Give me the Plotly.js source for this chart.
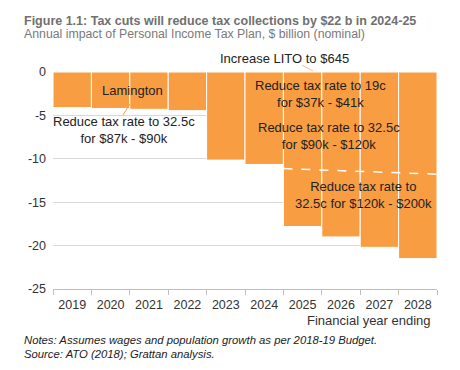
<!DOCTYPE html>
<html><head><meta charset="utf-8">
<script src="https://cdn.plot.ly/plotly-3.0.1.min.js"></script>
<style>html,body{margin:0;padding:0;background:#fff}</style></head>
<body>
<div id="chart" style="width:460px;height:370px"></div>
<script>
const years = ['2019','2020','2021','2022','2023','2024','2025','2026','2027','2028'];
const taxImpact = [-4.1, -4.2, -4.3, -4.45, -10.15, -10.65, -17.8, -19.0, -20.2, -21.5];
const stage3Years = ['2025','2026','2027','2028'];
const stage3Boundary = [-11.2, -11.35, -11.55, -11.7];
const yTickVals = [0, -5, -10, -15, -20, -25];

const L = 53, R = 437, T = 72, B = 289;
const PX = x => (x - L) / (R - L);
const PY = y => (B - y) / (B - T);

// dashed boundary line on hidden linear axis aligned to category indices
const idx = stage3Years.map(y => years.indexOf(y));
const n = idx.length;
const s0 = (stage3Boundary[1] - stage3Boundary[0]) / (idx[1] - idx[0]);
const s1 = (stage3Boundary[n-1] - stage3Boundary[n-2]) / (idx[n-1] - idx[n-2]);
const lineX = [idx[0] - 0.5].concat(idx, [idx[n-1] + 0.5]);
const lineY = [stage3Boundary[0] - 0.5 * s0].concat(stage3Boundary, [stage3Boundary[n-1] + 0.5 * s1]);

const orange = '#F89D42';
const txt = '#222222';
const FAM = 'Liberation Sans, Arial, sans-serif';
const afont = {family: FAM, size: 13, color: txt};

const data = [
  {type: 'bar', x: years, y: taxImpact, marker: {color: orange, line: {color: '#ffffff', width: 1}},
   hoverinfo: 'skip'},
  {type: 'scatter', mode: 'lines', x: lineX, y: lineY, xaxis: 'x2', yaxis: 'y',
   line: {color: '#ffffff', width: 1.5, dash: 'dash'}, hoverinfo: 'skip'}
];

function ann(text, x, y, extra) {
  return Object.assign({text: text, xref: 'paper', yref: 'paper', x: PX(x), y: PY(y),
    xanchor: 'center', yanchor: 'middle', showarrow: false, font: afont, align: 'center'}, extra || {});
}

const annotations = [
  ann('<b>Figure 1.1: Tax cuts will reduce tax collections by $22 b in 2024-25</b>', 22, 21,
      {xanchor: 'left', align: 'left', font: {family: FAM, size: 12.5, color: '#707070'}}),
  ann('Annual impact of Personal Income Tax Plan, $ billion (nominal)', 22, 34,
      {xanchor: 'left', align: 'left', font: {family: FAM, size: 12.3, color: '#7a7a7a'}}),
  ann('Increase LITO to $645', 284, 58),
  ann('Lamington', 132, 90.5),
  ann('Reduce tax rate to 32.5c<br>for $87k - $90k', 124, 129.5),
  ann('Reduce tax rate to 19c<br>for $37k - $41k', 320.5, 94),
  ann('Reduce tax rate to 32.5c<br>for $90k - $120k', 329, 135.5),
  ann('Reduce tax rate to<br>32.5c for $120k - $200k', 363, 194.5),
  ann('Financial year ending', 433, 320, {xanchor: 'right', font: {family: FAM, size: 13, color: '#333333'}}),
  ann('<i>Notes: Assumes wages and population growth as per 2018-19 Budget.</i>', 22, 339.5,
      {xanchor: 'left', align: 'left', font: {family: FAM, size: 11.3, color: '#222'}}),
  ann('<i>Source: ATO (2018); Grattan analysis.</i>', 22, 353.5,
      {xanchor: 'left', align: 'left', font: {family: FAM, size: 11.3, color: '#222'}})
];

const shapes = [
  {type: 'line', xref: 'paper', yref: 'paper', x0: PX(130), y0: PY(104), x1: PX(123), y1: PY(115),
   line: {color: orange, width: 1}},
  {type: 'line', xref: 'paper', yref: 'paper', x0: PX(302), y0: PY(65), x1: PX(313), y1: PY(71),
   line: {color: '#F9C08A', width: 1}}
];

const layout = {
  width: 460, height: 370,
  margin: {l: L, r: 460 - R, t: T, b: 370 - B, pad: 0},
  paper_bgcolor: '#ffffff', plot_bgcolor: '#ffffff',
  showlegend: false, bargap: 0,
  font: {family: FAM, size: 12, color: '#333'},
  xaxis: {type: 'category', tickson: 'boundaries', ticks: 'outside', ticklen: 5, tickcolor: '#bfbfbf',
          showline: true, linecolor: '#bfbfbf', linewidth: 1, showgrid: false, fixedrange: true,
          ticklabelstandoff: 4, tickfont: {size: 12.5, color: '#333'}},
  xaxis2: {overlaying: 'x', range: [-0.5, years.length - 0.5], visible: false, fixedrange: true},
  yaxis: {range: [-25, 0], tickvals: yTickVals, ticktext: yTickVals.map(String), showgrid: true,
          gridcolor: '#d9d9d9', gridwidth: 1, zeroline: false, ticks: '', showline: false,
          ticklabelstandoff: 6, tickfont: {size: 12.5, color: '#333'}, fixedrange: true},
  annotations: annotations,
  shapes: shapes
};

Plotly.newPlot('chart', data, layout, {displayModeBar: false, staticPlot: true});
</script>
</body></html>
